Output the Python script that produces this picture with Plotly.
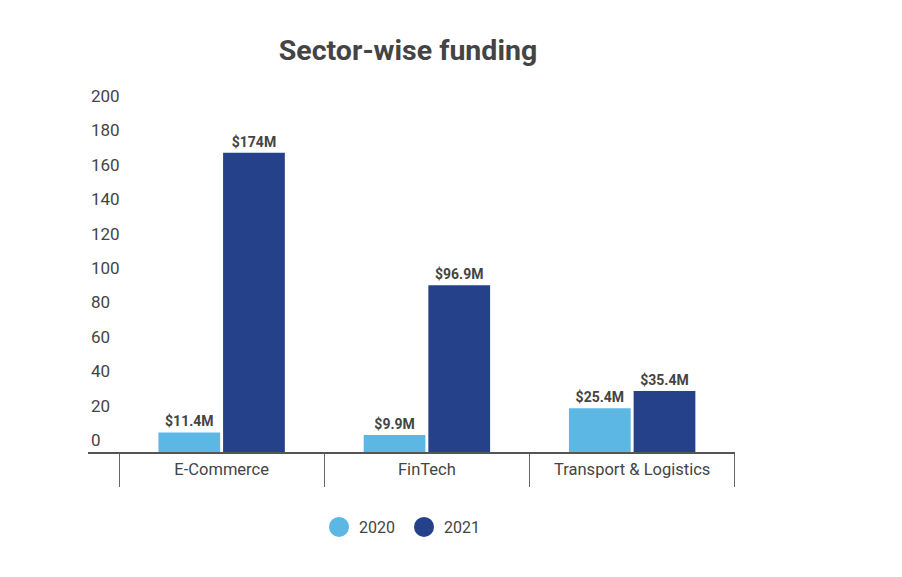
import plotly.graph_objects as go

categories = ["E-Commerce", "FinTech", "Transport & Logistics"]
v2020 = [11.4, 9.9, 25.4]
v2021 = [174, 96.9, 35.4]
y_ticks = [0, 20, 40, 60, 80, 100, 120, 140, 160, 180, 200]

C2020 = "#5DB7E5"
C2021 = "#24418A"
TXT = "#444444"
FONT = "Roboto"

idx = list(range(len(categories)))
bounds = [i - 0.5 for i in range(len(categories) + 1)]

fig = go.Figure()
for name, vals, col in [("2020", v2020, C2020), ("2021", v2021, C2021)]:
    fig.add_trace(go.Bar(
        x=idx, y=vals, name=name, marker=dict(color=col, line=dict(width=0)),
        texttemplate="<b>$%{y}M</b>", textposition="outside",
        outsidetextfont=dict(family=FONT, size=14, color=TXT),
        customdata=categories, hovertemplate="%{customdata}: $%{y}M<extra>" + name + "</extra>",
        cliponaxis=False, showlegend=False))
for name, col in [("2020", C2020), ("2021", C2021)]:
    fig.add_trace(go.Scatter(
        x=[None], y=[None], mode="markers", name=name, xaxis="x2",
        marker=dict(color=col, size=16, symbol="circle", line=dict(color=col, width=4))))

# the page body has an 8px default margin, so figure coords = screen - 8
fig.update_layout(
    width=894, height=569,
    margin=dict(l=80, r=167, t=100, b=125, autoexpand=False),
    paper_bgcolor="white", plot_bgcolor="white",
    font=dict(family=FONT, size=16, color=TXT),
    title=dict(text="<b>Sector-wise funding</b>", font=dict(family=FONT, size=28.5, color=TXT),
               x=400/894, xanchor="center", xref="container",
               y=1-42/569, yanchor="middle", yref="container"),
    barmode="group", bargap=0.37, bargroupgap=0.045,
    legend=dict(orientation="h", xref="container", yref="container",
                x=396/894, xanchor="center", y=1-519/569, yanchor="middle",
                entrywidth=40, entrywidthmode="pixels",
                font=dict(family=FONT, size=16, color=TXT), itemsizing="trace"),
    xaxis=dict(range=[-0.651, 2.501], showline=True, linecolor="#555555", linewidth=2,
               tickvals=bounds, ticktext=[""] * len(bounds),
               ticks="outside", ticklen=33, tickwidth=1, tickcolor="#666666",
               showgrid=False, zeroline=False, automargin=False),
    xaxis2=dict(overlaying="x", matches="x", anchor="y", side="bottom",
                tickvals=idx, ticktext=categories, ticks="", showline=False,
                showgrid=False, zeroline=False, automargin=False, ticklabelstandoff=5,
                tickfont=dict(family=FONT, size=16.5, color=TXT)),
    yaxis=dict(range=[0, 200], tickvals=y_ticks, ticktext=[str(v) for v in y_ticks],
               ticklabelposition="inside top", ticklabeloverflow="allow",
               showgrid=False, zeroline=False, showline=False,
               ticks="", automargin=False, tickfont=dict(family=FONT, size=17, color=TXT)),
)
fig.write_html("out.html")
